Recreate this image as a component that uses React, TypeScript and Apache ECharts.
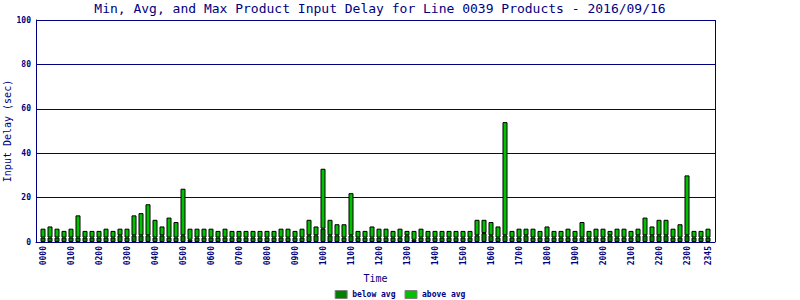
import React, { useEffect, useRef } from "react";
import * as echarts from "echarts";

// 15-minute time slots 0000 .. 2345
const times: string[] = [];
for (let h = 0; h < 24; h++) {
  for (let m = 0; m < 60; m += 15) {
    times.push(String(h).padStart(2, "0") + String(m).padStart(2, "0"));
  }
}

const tickLabels = [
  "0000", "0100", "0200", "0300", "0400", "0500", "0600", "0700", "0800", "0900",
  "1000", "1100", "1200", "1300", "1400", "1500", "1600", "1700", "1800", "1900",
  "2000", "2100", "2200", "2300", "2345",
];

// Max input delay (sec) per slot (total bar height)
const maxDelay = [
  6, 7, 6, 5, 6, 12, 5, 5, 5, 6, 5, 6, 6, 12, 13, 17,
  10, 7, 11, 9, 24, 6, 6, 6, 6, 5, 6, 5, 5, 5, 5, 5,
  5, 5, 6, 6, 5, 6, 10, 7, 33, 10, 8, 8, 22, 5, 5, 7,
  6, 6, 5, 6, 5, 5, 6, 5, 5, 5, 5, 5, 5, 5, 10, 10,
  9, 7, 54, 5, 6, 6, 6, 5, 7, 5, 5, 6, 5, 9, 5, 6,
  6, 5, 6, 6, 5, 6, 11, 7, 10, 10, 6, 8, 30, 5, 5, 6,
];

// Below-average portion (sec)
const belowAvg = [
  2, 2, 2, 2, 2, 2, 2, 2, 2, 2, 2, 3, 2, 3, 3, 3,
  2, 3, 2, 2, 3, 1, 2, 2, 2, 2, 2, 2, 2, 2, 2, 2,
  2, 2, 2, 2, 2, 2, 3, 3, 6, 3, 3, 2, 3, 2, 2, 2,
  2, 2, 2, 2, 3, 1, 2, 2, 2, 2, 2, 2, 2, 2, 3, 4,
  3, 2, 3, 2, 2, 3, 2, 2, 2, 2, 2, 2, 2, 2, 2, 2,
  2, 3, 2, 2, 2, 3, 3, 3, 3, 3, 2, 2, 3, 2, 2, 2,
];

const yTicks = [0, 20, 40, 60, 80, 100];

const NAVY = "#000080";
const FONT = "DejaVu Sans Mono";

export default function App() {
  const ref = useRef<HTMLDivElement>(null);
  useEffect(() => {
    if (!ref.current) return;
    const chart = echarts.init(ref.current, undefined, { renderer: "svg" });
    // one empty padding slot at each end of the time axis
    const cats = ["", ...times, " "];
    const below = [null, ...belowAvg, null];
    const above = [null, ...maxDelay.map((v, i) => v - belowAvg[i]), null];
    chart.setOption({
      animation: false,
      backgroundColor: "#ffffff",
      title: {
        text: "Min, Avg, and Max Product Input Delay for Line 0039 Products - 2016/09/16",
        left: 375,
        textAlign: "center",
        top: -3,
        textStyle: { fontFamily: FONT, fontSize: 13, fontWeight: "normal", color: NAVY },
      },
      legend: {
        top: 290,
        left: "center",
        padding: 0,
        itemWidth: 12,
        itemHeight: 8,
        itemGap: 9,
        icon: "rect",
        itemStyle: { borderColor: "#808080", borderWidth: 1 },
        textStyle: { fontFamily: FONT, fontSize: 8, fontWeight: "bold", color: NAVY },
        data: ["below avg", "above avg"],
      },
      grid: { left: 36, top: 20, width: 679, height: 222, outerBoundsMode: "none", containLabel: false },
      xAxis: {
        type: "category",
        data: cats,
        boundaryGap: false,
        name: "Time",
        nameLocation: "middle",
        nameGap: 31,
        nameMoveOverlap: false,
        nameTextStyle: { fontFamily: FONT, fontSize: 10, color: NAVY },
        axisLine: { show: true, lineStyle: { color: NAVY, width: 1 } },
        axisTick: { show: false },
        splitLine: { show: false },
        axisLabel: {
          interval: (_i: number, v: string) => tickLabels.includes(v),
          rotate: 90,
          margin: 4,
          fontFamily: FONT,
          fontSize: 8,
          fontWeight: "bold",
          color: NAVY,
          hideOverlap: false,
        },
      },
      yAxis: {
        type: "value",
        min: 0,
        max: 100,
        interval: 20,
        name: "Input Delay (sec)",
        nameLocation: "middle",
        nameGap: 24,
        nameMoveOverlap: false,
        nameTextStyle: { fontFamily: FONT, fontSize: 10, color: NAVY },
        axisLine: { show: true, lineStyle: { color: NAVY, width: 1 } },
        axisTick: { show: false },
        splitLine: { show: true, lineStyle: { color: NAVY, width: 1 } },
        axisLabel: {
          margin: 5,
          fontFamily: FONT,
          fontSize: 8,
          fontWeight: "bold",
          color: NAVY,
          formatter: (v: number) => (yTicks.includes(v) ? String(v) : ""),
        },
      },
      series: [
        {
          name: "below avg",
          type: "bar",
          stack: "delay",
          barWidth: 5,
          itemStyle: { color: "#008000", borderColor: "#000000", borderWidth: 1 },
          data: below,
        },
        {
          name: "above avg",
          type: "bar",
          stack: "delay",
          barWidth: 5,
          itemStyle: { color: "#00c000", borderColor: "#000000", borderWidth: 1 },
          data: above,
        },
      ],
      graphic: [
        {
          type: "line",
          shape: { x1: 715.5, y1: 20, x2: 715.5, y2: 242 },
          style: { stroke: NAVY, lineWidth: 1 },
          silent: true,
        },
      ],
    });
    return () => chart.dispose();
  }, []);
  return <div ref={ref} style={{ width: 800, height: 300, position: "fixed", left: 0, top: 0 }} />;
}
